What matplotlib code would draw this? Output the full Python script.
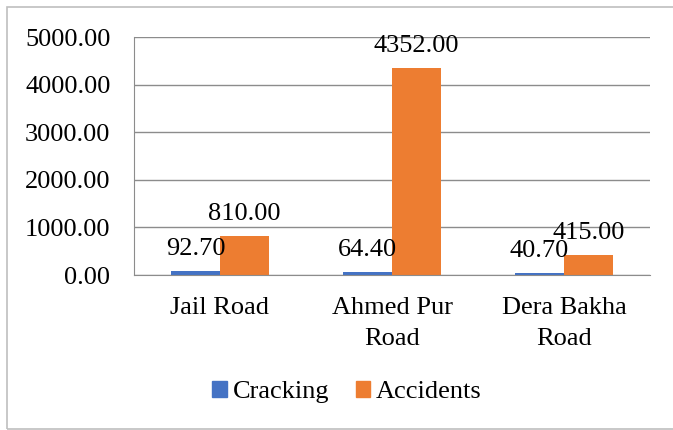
import matplotlib
matplotlib.use("Agg")
import matplotlib.pyplot as plt
from matplotlib.patches import Rectangle, Patch
import numpy as np

categories = ["Jail Road", "Ahmed Pur\nRoad", "Dera Bakha\nRoad"]
cracking = [92.70, 64.40, 40.70]
accidents = [810.00, 4352.00, 415.00]
yticks = [0, 1000, 2000, 3000, 4000, 5000]

W, H = 673, 430
plt.rcParams['font.family'] = ['Liberation Serif', 'DejaVu Serif']
fig = plt.figure(figsize=(W/100, H/100), dpi=100)

# outer chart border (right side runs off the image)
fig.patches.append(Rectangle((7/W, 1 - 429/H), (720-7)/W, (429-7)/H,
                             transform=fig.transFigure, fill=False,
                             edgecolor='#BFBFBF', linewidth=1.2, clip_on=False))

left, right, top, bottom = 134, 650, 37, 275
ax = fig.add_axes([left/W, 1 - bottom/H, (right-left)/W, (bottom-top)/H])

x = np.arange(len(categories))
bw = 49/172
blue = '#4472C4'
orange = '#ED7D31'
ax.bar(x - bw/2, cracking, bw, color=blue, label='Cracking', zorder=2)
ax.bar(x + bw/2, accidents, bw, color=orange, label='Accidents', zorder=2)

ax.set_xlim(-0.5, len(categories) - 0.5)
ax.set_ylim(0, 5000)
ax.set_yticks(yticks)
ax.set_yticklabels([f"{v:.2f}" for v in yticks])
ax.yaxis.grid(True, color='#8C8C8C', linewidth=1.0, zorder=0)
ax.set_axisbelow(True)
for s in ['top', 'right']:
    ax.spines[s].set_visible(False)
ax.spines['left'].set_color('#8C8C8C')
ax.spines['bottom'].set_color('#8C8C8C')
ax.tick_params(axis='both', length=0, labelsize=19, colors='black')
ax.tick_params(axis='y', pad=17)
ax.tick_params(axis='x', pad=16)
ax.set_xticks(x)
ax.set_xticklabels(categories, linespacing=1.5)

for xi, v in zip(x - bw/2, cracking):
    ax.annotate(f"{v:.2f}", (xi, v), xytext=(0, 11.5), textcoords='offset points',
                ha='center', va='baseline', fontsize=19, zorder=3)
for xi, v in zip(x + bw/2, accidents):
    ax.annotate(f"{v:.2f}", (xi, v), xytext=(0, 11.5), textcoords='offset points',
                ha='center', va='baseline', fontsize=19, zorder=3)

handles = [Patch(color=blue), Patch(color=orange)]
fig.legend(handles, ['Cracking', 'Accidents'], loc='center',
           bbox_to_anchor=(347/W, 1 - 392/H), ncol=2, frameon=False,
           fontsize=19, handlelength=0.55, handleheight=0.55,
           handletextpad=0.22, columnspacing=1.0)

fig.savefig("out.png", dpi=100)
